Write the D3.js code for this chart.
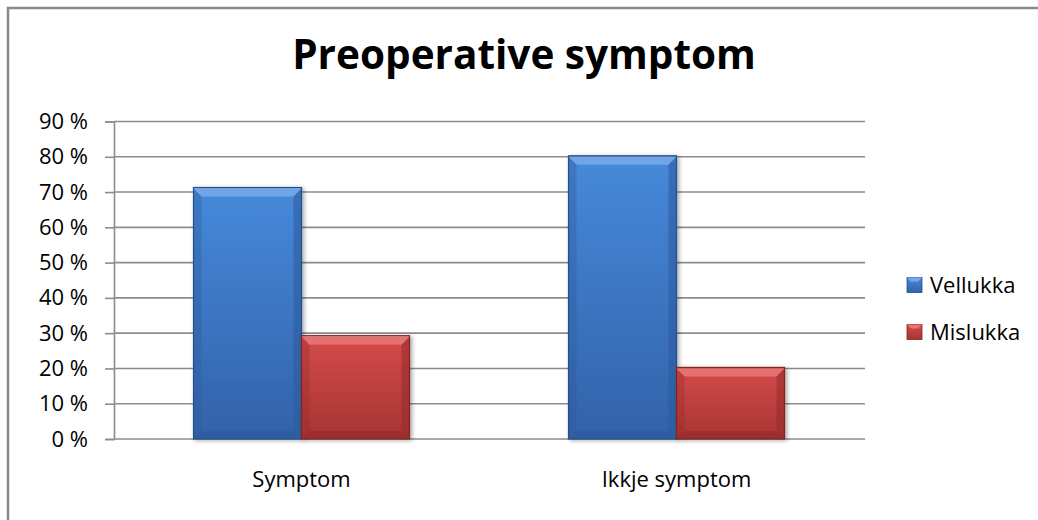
<!DOCTYPE html>
<html>
<head>
<meta charset="utf-8">
<script src="https://cdn.jsdelivr.net/npm/d3@7"></script>
<style>
  html, body { margin: 0; padding: 0; background: #fff; }
  svg { display: block; }
  text { font-family: "Open Sans", Lato, "Noto Sans", sans-serif; fill: #000; }
</style>
</head>
<body>
<script>
// Chart data
const title = "Preoperative symptom";
const categories = ["Symptom", "Ikkje symptom"];
const seriesNames = ["Vellukka", "Mislukka"];
const vellukka = [0.71, 0.80];
const mislukka = [0.29, 0.20];
const yTicks = [0, 0.1, 0.2, 0.3, 0.4, 0.5, 0.6, 0.7, 0.8, 0.9];

const W = 1038, H = 520;
const plot = { left: 114, right: 864, top: 121.5, bottom: 439 };
const labelFont = "'Open Sans', Lato, sans-serif";
const labelSize = 22;

const palette = {
  Vellukka: { top: "#4689da", bottom: "#3262a9", light: "#76a9ea", dark: "#2c5a9c", edge: "#274f88" },
  Mislukka: { top: "#d34b4a", bottom: "#a73432", light: "#e87573", dark: "#952c2a", edge: "#7f2624" }
};

const svg = d3.select("body").append("svg").attr("width", W).attr("height", H);
const defs = svg.append("defs");

// vertical gradients for the bar faces
seriesNames.forEach(s => {
  const g = defs.append("linearGradient").attr("id", "grad-" + s)
    .attr("x1", 0).attr("y1", 0).attr("x2", 0).attr("y2", 1);
  g.append("stop").attr("offset", "0%").attr("stop-color", palette[s].top);
  g.append("stop").attr("offset", "100%").attr("stop-color", palette[s].bottom);
});
const shadow = defs.append("filter").attr("id", "shadow")
  .attr("x", "-10%").attr("y", "-10%").attr("width", "130%").attr("height", "130%");
shadow.append("feDropShadow").attr("dx", 2).attr("dy", 1).attr("stdDeviation", 2)
  .attr("flood-color", "#000").attr("flood-opacity", 0.35);

// chart frame
svg.append("path")
  .attr("d", `M8,${H + 5} L8,8 L${W + 5},8`)
  .attr("fill", "none").attr("stroke", "#8a8a8a").attr("stroke-width", 2.5);

// scales
const y = d3.scaleLinear().domain([0, 0.9]).range([plot.bottom, plot.top]);
const x0 = d3.scaleBand().domain(categories).range([plot.left, plot.right])
  .paddingInner(0.424).paddingOuter(0.212);
const x1 = d3.scaleBand().domain(seriesNames).range([0, x0.bandwidth()]);

// gridlines
svg.append("g").selectAll("line").data(yTicks.slice(1)).join("line")
  .attr("x1", plot.left).attr("x2", plot.right + 1)
  .attr("y1", d => y(d)).attr("y2", d => y(d))
  .attr("stroke", "#8c8c8c").attr("stroke-width", 1.6);

// y axis
const yAxis = d3.axisLeft(y).tickValues(yTicks)
  .tickFormat(d => Math.round(d * 100) + " %").tickSize(9).tickPadding(17);
const ya = svg.append("g").attr("transform", `translate(${plot.left},0)`).call(yAxis);
ya.select(".domain").attr("stroke", "#8c8c8c").attr("stroke-width", 1.6);
ya.selectAll(".tick line").attr("stroke", "#8c8c8c").attr("stroke-width", 1.6);
ya.selectAll(".tick text").attr("font-size", labelSize).attr("fill", "#000")
  .attr("font-family", labelFont);

// x axis
const xAxis = d3.axisBottom(x0).tickSize(0).tickPadding(32);
const xa = svg.append("g").attr("transform", `translate(0,${plot.bottom})`).call(xAxis);
xa.select(".domain").attr("d", `M${plot.left},0H${plot.right + 1}`)
  .attr("stroke", "#8c8c8c").attr("stroke-width", 1.6);
xa.selectAll(".tick text").attr("font-size", labelSize).attr("fill", "#000")
  .attr("font-family", labelFont);

// bevelled bar
function bevelBar(g, bx, by, bw, bh, s) {
  const c = palette[s];
  const b = Math.min(8, bh / 2, bw / 2);
  const grp = g.append("g").attr("filter", "url(#shadow)");
  grp.append("rect").attr("x", bx).attr("y", by).attr("width", bw).attr("height", bh)
    .attr("fill", `url(#grad-${s})`);
  const poly = (pts, fill, op) => grp.append("polygon")
    .attr("points", pts.map(p => p.join(",")).join(" "))
    .attr("fill", fill).attr("opacity", op);
  poly([[bx, by], [bx + bw, by], [bx + bw - b, by + b], [bx + b, by + b]], c.light, 0.9);
  poly([[bx, by], [bx + b, by + b], [bx + b, by + bh - b], [bx, by + bh]], c.dark, 0.35);
  poly([[bx + bw, by], [bx + bw - b, by + b], [bx + bw - b, by + bh - b], [bx + bw, by + bh]], c.dark, 0.55);
  poly([[bx, by + bh], [bx + b, by + bh - b], [bx + bw - b, by + bh - b], [bx + bw, by + bh]], c.dark, 0.6);
  grp.append("rect").attr("x", bx).attr("y", by - 1).attr("width", bw).attr("height", bh + 1)
    .attr("fill", "none").attr("stroke", c.edge).attr("stroke-width", 1.2);
}

const barsG = svg.append("g");
categories.forEach((cat, i) => {
  const vals = { Vellukka: vellukka[i], Mislukka: mislukka[i] };
  seriesNames.forEach(s => {
    const bx = x0(cat) + x1(s);
    const by = y(vals[s]);
    bevelBar(barsG, bx, by, x1.bandwidth(), plot.bottom - by, s);
  });
});

// title
svg.append("text").attr("x", 524).attr("y", 69).attr("text-anchor", "middle")
  .attr("font-size", 40.5).attr("font-weight", "bold").text(title);

// legend
const legend = svg.append("g").attr("transform", "translate(907,285)");
seriesNames.forEach((s, i) => {
  const lg = legend.append("g").attr("transform", `translate(0,${i * 47})`);
  bevelLegend(lg, s);
  lg.append("text").attr("x", 23).attr("y", 0).attr("dy", "0.35em")
    .attr("font-size", labelSize).attr("font-family", labelFont).text(s);
});
function bevelLegend(g, s) {
  const c = palette[s];
  const sz = 15, b = 4;
  g.append("rect").attr("x", 0).attr("y", -sz / 2).attr("width", sz).attr("height", sz)
    .attr("fill", `url(#grad-${s})`).attr("stroke", c.edge).attr("stroke-width", 0.8);
  g.append("polygon")
    .attr("points", `0,${-sz / 2} ${sz},${-sz / 2} ${sz - b},${-sz / 2 + b} ${b},${-sz / 2 + b}`)
    .attr("fill", c.light);
}
</script>
</body>
</html>
